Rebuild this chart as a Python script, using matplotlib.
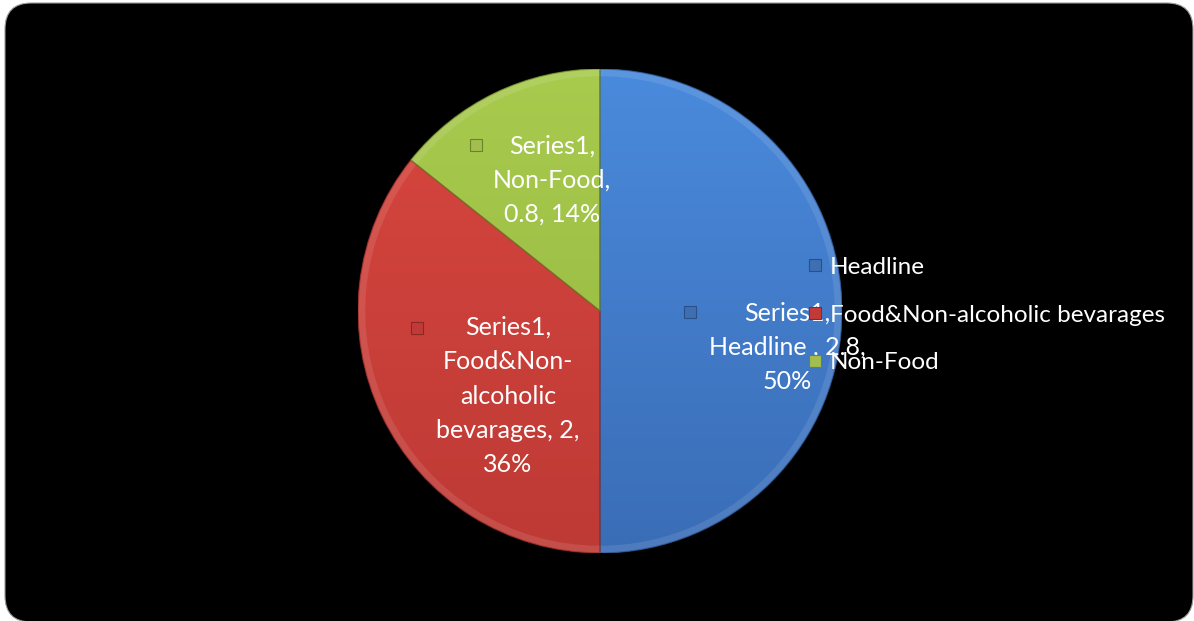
import numpy as np
import matplotlib
matplotlib.use("Agg")
import matplotlib.pyplot as plt
from matplotlib.patches import FancyBboxPatch, Wedge
from matplotlib.colors import LinearSegmentedColormap
from matplotlib.lines import Line2D

# ---- data ----
series_name = "Series1"
categories = ["Headline", "Food&Non-alcoholic bevarages", "Non-Food"]
label_names = ["Headline ", "Food&Non-\nalcoholic\nbevarages", "Non-Food"]
values = [2.8, 2, 0.8]

# ---- style ----
top_colors = ["#4A8ADC", "#D8463F", "#A8CB4E"]
bot_colors = ["#3A6DB6", "#BE3A35", "#93B43F"]
mid_colors = ["#4380CF", "#CF423C", "#9FC146"]
marker_colors = ["#3E6FB2", "#C23A38", "#A3BE4E"]
edge_colors = ["#2A5088", "#8A2826", "#6A8428"]
FONT = ["Lato", "DejaVu Sans"]
plt.rcParams['font.family'] = FONT

W, H, DPI = 1194, 621, 100
fig = plt.figure(figsize=(W / DPI, H / DPI), dpi=DPI, facecolor="white")

# black rounded background panel
bg = FancyBboxPatch((5 / W, 1 - 622 / H), (1193 - 5) / W, (622 - 3) / H,
                    boxstyle="round,pad=0,rounding_size=0.022",
                    transform=fig.transFigure, facecolor="black",
                    edgecolor="#9A9A9A", linewidth=0.8,
                    mutation_aspect=W / H, zorder=-5)
fig.patches.append(bg)

cx, cy, r = 600, 311, 242
ax = fig.add_axes([(cx - r) / W, 1 - (cy + r) / H, 2 * r / W, 2 * r / H])
ax.set_aspect("equal")
ax.axis("off")
ax.set_zorder(1)

wedges, _ = ax.pie(values, startangle=90, counterclock=False, radius=1,
                   colors=mid_colors,
                   wedgeprops=dict(edgecolor="none", linewidth=0))

grad = np.linspace(1, 0, 256).reshape(-1, 1)
for w, tc, bc in zip(wedges, top_colors, bot_colors):
    cmap = LinearSegmentedColormap.from_list("g", [bc, tc])
    im = ax.imshow(grad, cmap=cmap, extent=[-1, 1, -1, 1], aspect="auto",
                   origin="upper", zorder=2, interpolation="bicubic")
    im.set_clip_path(w)
    w.set_zorder(1)
ax.set_xlim(-1, 1)
ax.set_ylim(-1, 1)

# bevel rim and separating lines
for w, ec in zip(wedges, edge_colors):
    ax.add_patch(Wedge(w.center, w.r, w.theta1, w.theta2, width=0.03,
                       facecolor="white", alpha=0.10, edgecolor="none",
                       zorder=3))
    ax.add_patch(Wedge(w.center, w.r, w.theta1, w.theta2, fill=False,
                       edgecolor=ec, linewidth=0.9, alpha=0.7, zorder=3))

# ---- data labels ----
total = sum(values)
def px2d(px, py):
    return (px - cx) / r, (cy - py) / r

label_pos = [(787, 347), (508, 396), (552, 180)]
marker_pos = [(690, 312), (417, 328), (476, 145)]
for i, (name, v) in enumerate(zip(label_names, values)):
    pct = round(100 * v / total)
    vs = f"{v:g}"
    if i == 2:
        txt = f"{series_name},\n{name},\n{vs}, {pct}%"
    else:
        txt = f"{series_name},\n{name}, {vs},\n{pct}%"
    x, y = px2d(*label_pos[i])
    ax.text(x, y, txt, ha="center", va="center", color="white",
            fontsize=18, linespacing=1.6, zorder=5, family=FONT)
    mx, my = px2d(*marker_pos[i])
    ax.plot([mx], [my], marker="s", markersize=8, color=marker_colors[i],
            markeredgecolor=edge_colors[i], markeredgewidth=0.8, zorder=5)

# ---- legend ----
handles = [Line2D([], [], linestyle="none", marker="s", markersize=8,
                  color=marker_colors[i], markeredgecolor=edge_colors[i],
                  markeredgewidth=0.8) for i in range(3)]
leg = fig.legend(handles, categories, loc="center left",
                 bbox_to_anchor=(808 / W, 1 - 315 / H),
                 frameon=False, fontsize=17.5, labelcolor="white",
                 handlelength=0.6, handletextpad=0.3, labelspacing=1.09,
                 borderpad=0, borderaxespad=0)
leg.set_zorder(10)

fig.savefig("out.png", dpi=DPI, facecolor="white")
